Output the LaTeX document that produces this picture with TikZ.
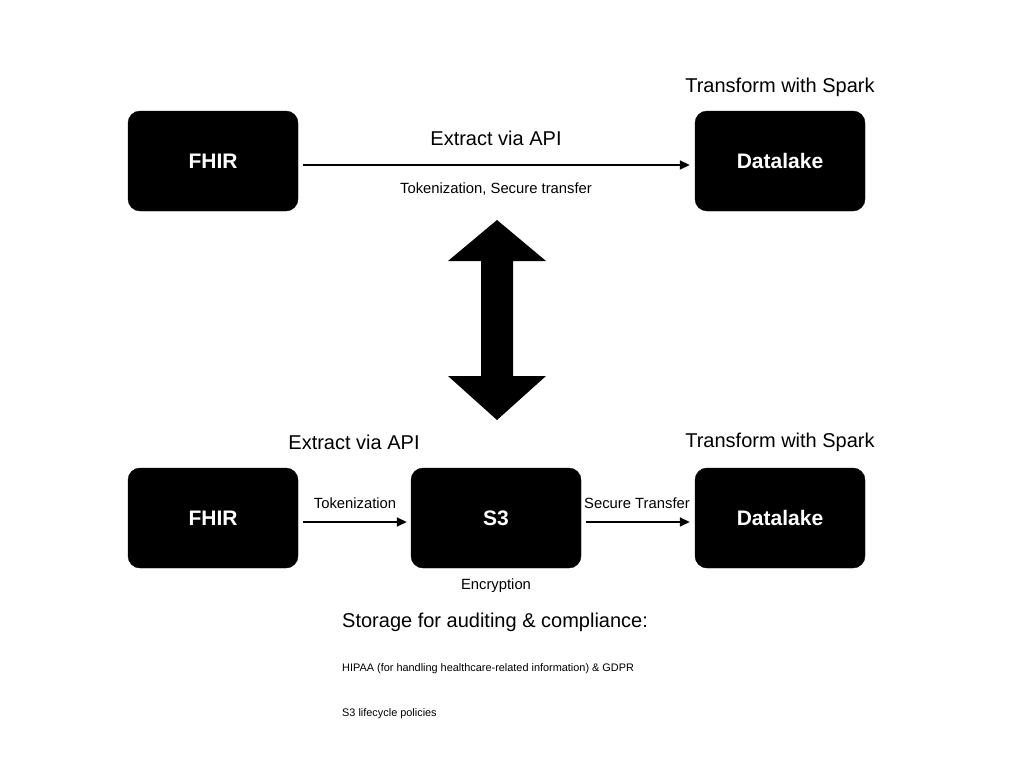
\documentclass[tikz,border=0pt]{standalone}
\usepackage{fontspec}
\setmainfont{Liberation Sans}
\usepackage{tikz}
\usetikzlibrary{arrows.meta,positioning,calc}

\begin{document}
\begin{tikzpicture}[x=1pt, y=-1pt,
    box/.style={draw=black, fill=black, rounded corners=12pt, minimum width=170pt, minimum height=100pt,
        text=white, font=\fontsize{21}{25}\selectfont\bfseries, inner sep=0pt},
    bigtxt/.style={font=\fontsize{20}{24}\selectfont, inner sep=0pt},
    midtxt/.style={font=\fontsize{14.8}{18}\selectfont, inner sep=0pt},
    smalltxt/.style={font=\fontsize{10.9}{13}\selectfont, inner sep=0pt, anchor=west},
    flow/.style={-{Triangle[length=10pt, width=9pt]}, line width=1.6pt}]
    \useasboundingbox (0,0) rectangle (1024,768);

    % Top pipeline
    \node[box] (fhirTop) at (213,161) {FHIR};
    \node[box] (lakeTop) at (780,161) {Datalake};
    \draw[flow] ($(fhirTop.east)+(5,4)$) -- ($(lakeTop.west)+(-5,4)$);
    \node[bigtxt] (extractTop) at (496,138) {Extract via API};
    \node[midtxt] (secureTop) at (496,189) {Tokenization, Secure transfer};
    \node[bigtxt] (sparkTop) at (780,87) {Transform with Spark};

    % Double arrow between the two pipelines
    \fill[black] (497,220) -- (546,261) -- (513,261) -- (513,376) -- (546,376) -- (497,420)
        -- (448,376) -- (481,376) -- (481,261) -- (448,261) -- cycle;

    % Bottom pipeline
    \node[box] (fhirBot) at (213,518) {FHIR};
    \node[box] (sThree) at (496,518) {S3};
    \node[box] (lakeBot) at (780,518) {Datalake};
    \draw[flow] ($(fhirBot.east)+(5,4)$) -- ($(sThree.west)+(-4,4)$);
    \draw[flow] ($(sThree.east)+(5,4)$) -- ($(lakeBot.west)+(-5,4)$);
    \node[midtxt] (tokenBot) at (355,503) {Tokenization};
    \node[midtxt] (secureBot) at (637,503) {Secure Transfer};
    \node[midtxt] (encrypt) at (496,586) {Encryption};
    \node[bigtxt] (extractBot) at (354,442) {Extract via API};
    \node[bigtxt] (sparkBot) at (780,442) {Transform with Spark};

    % Compliance notes
    \node[bigtxt, anchor=west] (storage) at (342,622) {Storage for auditing \& compliance:};
    \node[smalltxt] (hipaa) at (342,669) {HIPAA (for handling healthcare-related information) \& GDPR};
    \node[smalltxt] (lifecycle) at (342,714) {S3 lifecycle policies};
\end{tikzpicture}
\end{document}
